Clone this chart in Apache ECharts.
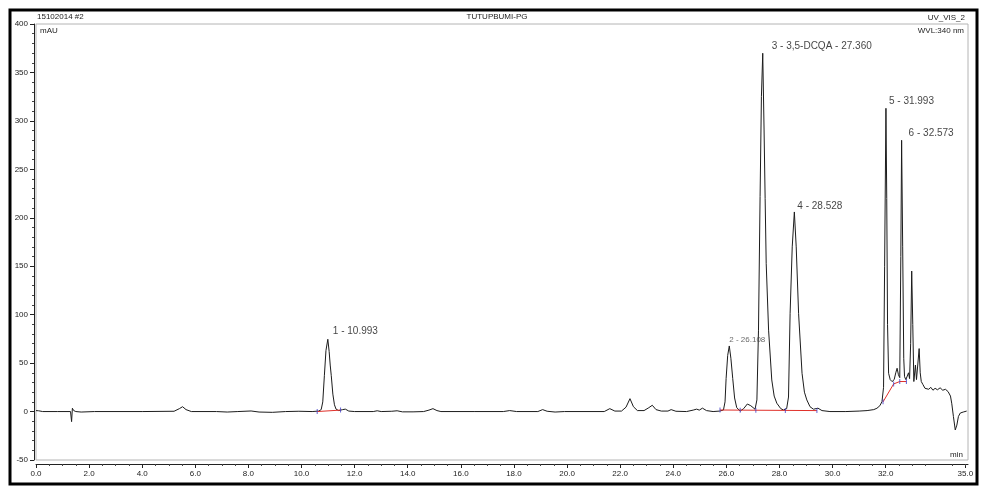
<!DOCTYPE html>
<html><head><meta charset="utf-8">
<script src="https://cdn.jsdelivr.net/npm/echarts@6/dist/echarts.min.js"></script>
<style>html,body{margin:0;padding:0;background:#fff}#c{width:991px;height:497px}</style>
</head><body><div id="c"></div>
<script>
// ---- data ----
const retentionTime = [
 0.00,0.10,0.25,0.80,1.30,1.34,1.37,1.42,1.50,1.70,2.20,4.00,5.20,5.40,5.52,5.65,5.85,6.80,7.20,7.60,
 8.10,8.40,8.90,9.40,9.90,10.40,10.65,10.74,10.80,10.86,10.92,10.99,11.04,11.08,11.12,11.18,11.24,11.30,11.40,11.55,
 11.65,11.78,12.00,12.70,12.85,13.00,13.40,13.60,13.80,14.20,14.60,14.80,14.95,15.10,15.25,16.50,17.60,17.84,18.10,18.90,
 19.08,19.25,19.55,19.90,21.40,21.61,21.80,22.05,22.22,22.37,22.50,22.65,22.90,23.08,23.21,23.35,23.55,23.80,23.92,24.10,
 24.50,24.75,24.88,24.98,25.10,25.25,25.50,25.75,25.89,25.95,25.99,26.05,26.11,26.17,26.24,26.31,26.39,26.52,26.65,26.79,
 26.92,27.08,27.15,27.21,27.27,27.32,27.37,27.42,27.46,27.50,27.59,27.71,27.80,27.90,28.05,28.15,28.27,28.34,28.40,28.48,
 28.56,28.63,28.72,28.85,28.94,29.03,29.15,29.28,29.45,29.60,29.90,30.50,31.00,31.30,31.55,31.67,31.78,31.86,31.92,31.96,
 32.01,32.04,32.07,32.11,32.17,32.24,32.32,32.38,32.43,32.48,32.53,32.57,32.60,32.64,32.68,32.71,32.76,32.81,32.86,32.90,
 32.94,32.98,33.02,33.06,33.12,33.16,33.21,33.26,33.30,33.34,33.40,33.48,33.55,33.62,33.70,33.78,33.86,33.95,34.05,34.15,
 34.25,34.35,34.44,34.49,34.55,34.62,34.68,34.74,34.81,34.92,35.05
];
const absorbance = [
 1.0,0.8,0.0,0.0,0.0,-10.4,3.4,1.0,0.0,-0.5,0.0,0.0,0.3,3.0,5.0,2.0,0.0,0.0,-0.5,0.0,
 0.6,-0.5,-0.8,0.0,0.3,0.0,0.5,2.0,10,37,63,74.6,62,48,37,18,7,2.5,1.0,2.0,
 2.5,0.5,0.0,0.0,0.8,0.0,0.3,0.8,-0.3,-0.3,0.0,1.5,3.0,1.0,0.0,0.0,0.0,1.0,0.0,0.0,
 2.0,0.3,-0.5,0.0,0.0,3.0,0.5,0.5,4.5,13.3,5.0,1.0,1.0,4.0,6.5,2.0,0.5,0.5,2.0,0.3,
 0.0,1.5,2.5,1.5,3.5,1.0,0.0,0.5,1.6,10,34,58,67.7,55,34,14,4,0.5,3.0,7.8,
 6.0,2.4,12,84,222,325,369.8,290.6,220,153,84,32.6,16,8.6,3,1.6,3,15,101,170,
 206,170,101,39.5,20,12,5,2.4,3.5,1.0,0.0,0.0,0.5,1.0,2.0,3.4,6.0,10.2,25,150,
 313,220,90,39.5,33,30.9,33,40,44.7,38,35,160,280,170,55,36,33,31,40,34,
 70,145,90,31,48,33,35,65,40,31,28,24,26,23,25,22,24,22.5,24.5,22,
 23,20.6,16,8,-5,-19,-14,-5,-1.5,-0.5,0.5
];
const peakNames   = ['1 - 10.993','2 - 26.108','3 - 3,5-DCQA - 27.360','4 - 28.528','5 - 31.993','6 - 32.573'];
const peakTimes   = [10.99, 26.11, 27.37, 28.56, 32.01, 32.60];
const peakHeights = [74.6, 67.7, 369.8, 206, 313, 280];
const baselineSegments = [
 [[10.59,0.0],[11.47,1.5]],
 [[25.76,1.6],[29.41,1.0]],
 [[31.90,10],[32.30,28.5],[32.53,31],[32.78,31]]
];
const integrationMarks = [[10.59,0.0],[11.47,1.5],[25.76,1.6],[26.52,1.4],[27.11,1.4],[28.22,1.2],[29.41,1.0],[31.90,10],[32.30,28.5],[32.53,31],[32.78,31]];
const xTickLabels = [0,2,4,6,8,10,12,14,16,18,20,22,24,26,28,30,32,35];

// ---- styling (not data) ----
const labelOffsets = [[5,-8],[0,-6],[9,-7],[3,-6],[3,-7],[7,-7]];
const labelFont = "'Liberation Sans',Arial,sans-serif";
const smallFont = "'Liberation Sans',Arial,sans-serif";

const chart = echarts.init(document.getElementById('c'), null, {renderer:'canvas'});
const signal = retentionTime.map((t,i)=>[t, absorbance[i]]);

const series = [
 {type:'line', data:signal, showSymbol:false, symbol:'none', z:3,
  lineStyle:{color:'#1c1c1c', width:1}, silent:true}
];
baselineSegments.forEach(seg=>{
 series.push({type:'line', data:seg, showSymbol:false, symbol:'none', z:4,
  lineStyle:{color:'#e0302a', width:1}, silent:true});
});
series.push({type:'scatter', data:integrationMarks, symbol:'rect', symbolSize:[1,5], z:5,
 itemStyle:{color:'#3c3cc8'}, silent:true});
series.push({type:'scatter', symbolSize:0, z:6, silent:true,
 data: peakNames.map((n,i)=>({name:n, value:[peakTimes[i], peakHeights[i]],
   label:{offset:labelOffsets[i],
     fontSize: i===1 ? 8 : 10,
     color: i===1 ? '#444' : '#111',
     fontFamily: i===1 ? smallFont : labelFont}})),
 label:{show:true, position:'right', distance:0, formatter:'{b}'}
});

chart.setOption({
 animation:false,
 backgroundColor:'#fff',
 grid:{left:36, right:23, top:24, bottom:37, show:true, borderColor:'#b4b4b4', borderWidth:1, backgroundColor:'transparent'},
 xAxis:{type:'value', min:0, max:35.1, interval:2, offset:4,
  axisLine:{show:true, onZero:false, lineStyle:{color:'#222', width:1}},
  axisTick:{show:true, length:4, customValues:xTickLabels, lineStyle:{color:'#222'}},
  minorTick:{show:true, splitNumber:4, length:2, lineStyle:{color:'#444'}},
  axisLabel:{customValues:xTickLabels, formatter:v=>Number(v).toFixed(1), fontSize:8, color:'#222', margin:6, fontFamily:smallFont},
  splitLine:{show:false}, minorSplitLine:{show:false}},
 yAxis:{type:'value', min:-50, max:400, interval:50, offset:2,
  axisLine:{show:true, onZero:false, lineStyle:{color:'#222', width:1}},
  axisTick:{show:true, length:4, lineStyle:{color:'#222'}},
  minorTick:{show:true, splitNumber:5, length:2, lineStyle:{color:'#444'}},
  axisLabel:{fontSize:8, color:'#222', margin:6, fontFamily:smallFont},
  splitLine:{show:false}},
 series:series,
 graphic:[
  {type:'rect', shape:{x:10, y:10, width:967, height:474}, style:{fill:null, stroke:'#000', lineWidth:3}, silent:true, z:100},
  {type:'text', x:37, y:17, style:{text:'15102014 #2', font:"8px "+smallFont, fill:'#222', textVerticalAlign:'middle'}},
  {type:'text', x:497, y:17, style:{text:'TUTUPBUMI-PG', font:"8px "+smallFont, fill:'#222', textAlign:'center', textVerticalAlign:'middle'}},
  {type:'text', x:965, y:18, style:{text:'UV_VIS_2', font:"8px "+smallFont, fill:'#222', textAlign:'right', textVerticalAlign:'middle'}},
  {type:'text', x:40, y:31, style:{text:'mAU', font:"8px "+smallFont, fill:'#222', textVerticalAlign:'middle'}},
  {type:'text', x:964, y:31, style:{text:'WVL:340 nm', font:"8px "+smallFont, fill:'#222', textAlign:'right', textVerticalAlign:'middle'}},
  {type:'text', x:963, y:455, style:{text:'min', font:"8px "+smallFont, fill:'#222', textAlign:'right', textVerticalAlign:'middle'}}
 ]
});
</script></body></html>
